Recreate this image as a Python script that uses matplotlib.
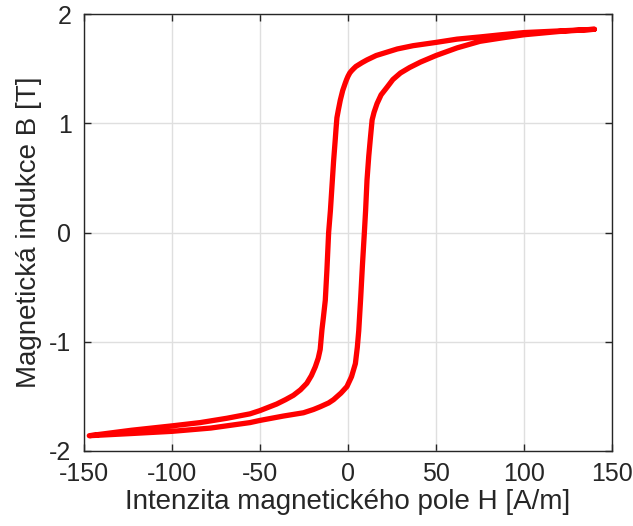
import matplotlib
matplotlib.use("Agg")
import matplotlib.pyplot as plt

# Sestupná větev (od +Hmax k -Hmax)
desc_H = [140, 120, 100, 87, 75, 62, 50, 37, 28, 22, 16, 10.8, 8, 6, 4.5, 3.2, 2, 1,
          0, -0.8, -1.5, -3, -4.4, -5.5, -6.3, -6.8, -7.2, -8.2, -9.2, -10, -11, -12,
          -12.9, -14, -14.8, -15.8, -16.9, -18.6, -20.8, -23.4, -27, -31, -35.5,
          -40.5, -50, -55.7, -68.7, -84, -100, -123, -147]
desc_B = [1.86, 1.845, 1.83, 1.81, 1.79, 1.77, 1.74, 1.71, 1.68, 1.65, 1.62, 1.58, 1.555,
          1.535, 1.52, 1.50, 1.48, 1.46, 1.43, 1.40, 1.37, 1.30, 1.21, 1.12, 1.05, 0.95,
          0.86, 0.65, 0.40, 0.20, 0.0, -0.35, -0.62, -0.78, -0.89, -1.07, -1.15, -1.23,
          -1.31, -1.38, -1.44, -1.49, -1.53, -1.57, -1.63, -1.66, -1.70, -1.74, -1.77,
          -1.81, -1.86]

# Vzestupná větev (od -Hmax k +Hmax)
asc_H = [-147, -123, -100, -78, -55.7, -50, -36.7, -25.3, -19.6, -15.8, -11, -8.2,
         -4, -0.6, 2, 4.2, 5.3, 6.1, 7.2, 8.2, 9.3, 10, 10.8, 11.8, 12.7, 13.7,
         14.8, 16.5, 18.8, 22.2, 25.5, 29.8, 35, 41.2, 50, 62, 75, 87, 100, 120, 140]
asc_B = [-1.86, -1.84, -1.82, -1.79, -1.74, -1.72, -1.68, -1.65, -1.62, -1.595, -1.56,
         -1.53, -1.47, -1.41, -1.32, -1.20, -1.05, -0.90, -0.60, -0.30, 0.0, 0.20, 0.48,
         0.70, 0.86, 1.03, 1.10, 1.18, 1.26, 1.33, 1.40, 1.46, 1.51, 1.56, 1.62, 1.69,
         1.75, 1.78, 1.81, 1.84, 1.86]

x_ticks = [-150, -100, -50, 0, 50, 100, 150]
y_ticks = [-2, -1, 0, 1, 2]

text_color = "#262626"
plt.rcParams["font.family"] = ["Liberation Sans", "DejaVu Sans"]

fig = plt.figure(figsize=(6.33, 5.26), dpi=100)
ax = fig.add_axes([84 / 633, 75 / 526, 528 / 633, 437 / 526])

ax.plot(desc_H + asc_H[1:], desc_B + asc_B[1:], color="red", linewidth=3.8,
        solid_capstyle="round", solid_joinstyle="round", zorder=3)

ax.set_xlim(-150, 150)
ax.set_ylim(-2, 2)
ax.set_xticks(x_ticks)
ax.set_yticks(y_ticks)
ax.set_xticklabels([str(t) for t in x_ticks])
ax.set_yticklabels([str(t) for t in y_ticks])

ax.grid(True, color="#dfdfdf", linewidth=1.0, zorder=0)
ax.set_axisbelow(True)

ax.tick_params(direction="in", length=5, width=1, colors=text_color,
               labelsize=18, top=True, right=True)
ax.tick_params(axis="x", pad=8)
ax.tick_params(axis="y", pad=9)
for s in ax.spines.values():
    s.set_color(text_color)
    s.set_linewidth(1.0)

ax.set_xlabel("Intenzita magnetického pole H [A/m]", fontsize=20, color=text_color,
              labelpad=2)
ax.set_ylabel("Magnetická indukce B [T]", fontsize=20, color=text_color, labelpad=5)

fig.savefig("out.png", dpi=100)
